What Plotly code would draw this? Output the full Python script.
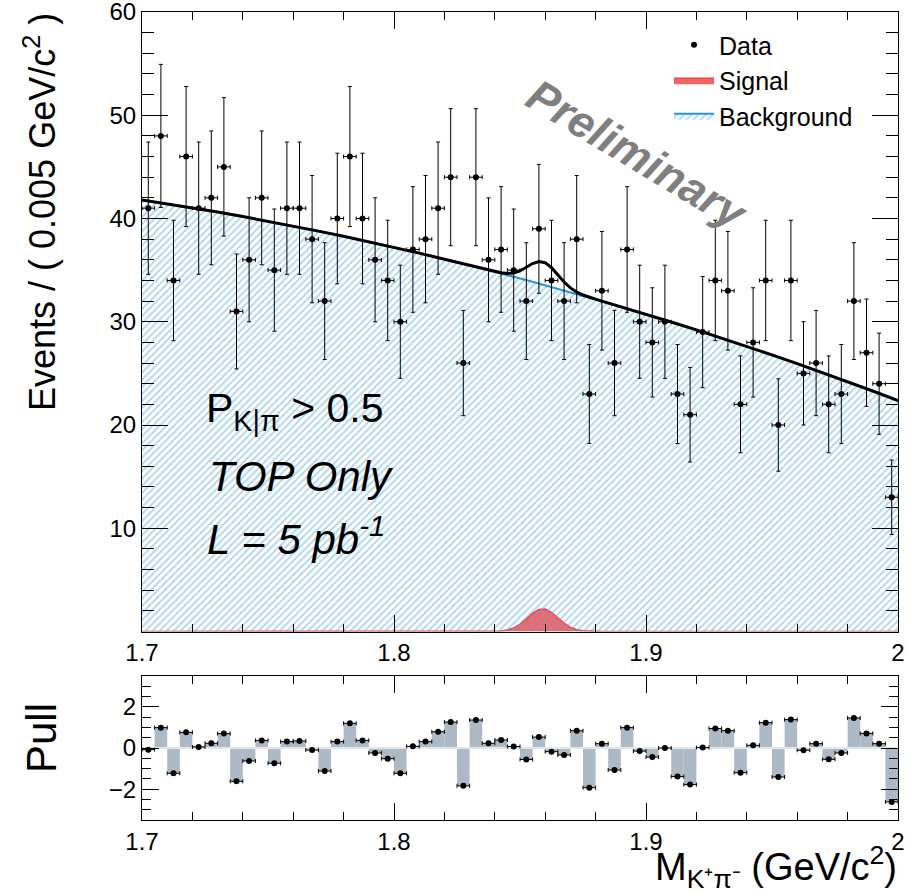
import numpy as np
import plotly.graph_objects as go

# ---------------- data ----------------
x_min, x_max, bin_w = 1.7, 2.0, 0.005

counts = [41, 48, 34, 46, 41, 42, 45, 31, 36, 42,
          35, 41, 41, 38, 32, 40, 46, 40, 36, 34,
          30, 37, 38, 41, 44, 26, 44, 36, 37, 35,
          32, 39, 34, 32, 38, 23, 33, 26, 37, 30,
          28, 30, 23, 21, 29, 34, 33, 22, 28, 34,
          20, 34, 25, 26, 22, 23, 32, 27, 24, 13]

pulls = [-0.08, 0.99, -1.23, 0.76, 0.05, 0.23, 0.70, -1.62, -0.63, 0.37,
         -0.74, 0.31, 0.34, -0.10, -1.12, 0.31, 1.20, 0.37, -0.24, -0.52,
         -1.23, 0.08, 0.31, 0.79, 1.26, -1.84, 1.36, 0.23, 0.39, 0.07,
         -0.56, 0.53, -0.18, -0.34, 0.84, -1.93, 0.21, -1.07, 0.99, -0.15,
         -0.44, 0.00, -1.39, -1.78, 0.02, 0.95, 0.84, -1.20, 0.13, 1.23,
         -1.41, 1.38, -0.11, 0.21, -0.55, -0.24, 1.46, 0.71, 0.21, -2.62]

curve_x = [1.70, 1.71, 1.72, 1.73, 1.74, 1.75, 1.76, 1.77, 1.78, 1.79, 1.80, 1.81, 1.82, 1.83,
           1.835, 1.8375, 1.84, 1.8425, 1.845, 1.8475, 1.85, 1.8525, 1.855, 1.8575, 1.86,
           1.8625, 1.865, 1.8675, 1.87, 1.8725, 1.875, 1.8775, 1.88, 1.8825, 1.885,
           1.89, 1.90, 1.91, 1.92, 1.93, 1.94, 1.95, 1.96, 1.97, 1.98, 1.99, 2.00]

bkg_y = [41.80, 41.43, 41.03, 40.62, 40.19, 39.74, 39.27, 38.78, 38.28, 37.75, 37.21, 36.65, 36.06, 35.46,
         35.16, 35.00, 34.84, 34.69, 34.53, 34.37, 34.21, 34.04, 33.88, 33.71, 33.55,
         33.38, 33.21, 33.04, 32.87, 32.70, 32.53, 32.35, 32.18, 32.00, 31.82,
         31.46, 30.73, 29.98, 29.21, 28.42, 27.61, 26.79, 25.94, 25.08, 24.20, 23.29, 22.37]

sig_y = [0, 0, 0, 0, 0, 0, 0, 0, 0, 0, 0, 0, 0, 0,
         0.001, 0.004, 0.015, 0.050, 0.145, 0.35, 0.71, 1.22, 1.76, 2.13, 2.17,
         1.86, 1.33, 0.81, 0.41, 0.175, 0.063, 0.019, 0.005, 0.001, 0.0,
         0, 0, 0, 0, 0, 0, 0, 0, 0, 0, 0, 0]

x_tick_vals = [1.7, 1.8, 1.9, 2.0]
x_tick_text = ["1.7", "1.8", "1.9", "2"]
y_tick_vals = [10, 20, 30, 40, 50, 60]
pull_tick_vals = [-2, 0, 2]

# ---------------- derived ----------------
centers = x_min + bin_w / 2 + bin_w * np.arange(len(counts))
counts_a = np.array(counts, dtype=float)
total_y = np.array(bkg_y) + np.array(sig_y)

FONT = "Liberation Sans, Arial, sans-serif"
W, H = 908, 893
L, R, T, B = 142, 10, 12, 73
PW, PH = W - L - R, H - T - B


def px(xp):
    return (xp - L) / PW


def py(yp):
    return (H - B - yp) / PH


fig = go.Figure()

# signal (red fill)
fig.add_trace(go.Scatter(
    x=curve_x, y=sig_y, mode="lines", fill="tozeroy",
    fillcolor="#f86464", line=dict(color="#f04848", width=1.5),
    name="Signal", legendrank=2, xaxis="x", yaxis="y"))

# background (hatched)
fig.add_trace(go.Scatter(
    x=curve_x, y=bkg_y, mode="lines", fill="tozeroy",
    fillcolor="rgba(0,0,0,0)",
    fillpattern=dict(shape="/", fgcolor="#5aaadc", bgcolor="rgba(0,0,0,0)",
                     size=5, solidity=0.35),
    line=dict(color="#2a95d5", width=2),
    name="Background", legendrank=3, xaxis="x", yaxis="y"))

# total fit
fig.add_trace(go.Scatter(
    x=curve_x, y=total_y, mode="lines", line=dict(color="black", width=3),
    showlegend=False, xaxis="x", yaxis="y"))

# data
fig.add_trace(go.Scatter(
    x=centers, y=counts, mode="markers",
    marker=dict(color="black", size=6),
    error_y=dict(type="data", array=np.sqrt(counts_a), thickness=1, width=2, color="black"),
    error_x=dict(type="constant", value=bin_w / 2, thickness=1, width=2, color="black"),
    name="Data", legendrank=1, xaxis="x", yaxis="y"))

# pull bars
fig.add_trace(go.Bar(
    x=centers, y=pulls, width=bin_w, marker=dict(color="#adb9c5", line=dict(width=0)),
    showlegend=False, xaxis="x2", yaxis="y2"))

# zero line in pull
fig.add_trace(go.Scatter(
    x=[x_min, x_max], y=[0, 0], mode="lines", line=dict(color="#e2e7ec", width=2),
    showlegend=False, xaxis="x2", yaxis="y2"))

# pull points
fig.add_trace(go.Scatter(
    x=centers, y=pulls, mode="markers", marker=dict(color="black", size=6),
    error_x=dict(type="constant", value=bin_w / 2, thickness=1, width=2, color="black"),
    showlegend=False, xaxis="x2", yaxis="y2"))

common_axis = dict(showline=True, linecolor="black", linewidth=1, mirror="allticks",
                   ticks="inside", tickcolor="black", tickwidth=1, showgrid=False,
                   zeroline=False, automargin=False, ticklabeloverflow="allow",
                   tickfont=dict(family=FONT, size=24, color="black"))

main_bottom = py(631.5)
pull_top = py(676)

fig.update_layout(
    width=W, height=H,
    margin=dict(l=L, r=R, t=T, b=B, autoexpand=False),
    paper_bgcolor="white", plot_bgcolor="white",
    font=dict(family=FONT, color="black"),
    showlegend=True,
    barmode="overlay",
    hovermode=False,
    xaxis=dict(domain=[0, 1], anchor="y", range=[x_min, x_max],
               tickmode="array", tickvals=x_tick_vals, ticktext=x_tick_text, ticklen=17,
               minor=dict(dtick=0.02, tick0=x_min, ticks="inside", ticklen=8, tickcolor="black"),
               **common_axis),
    yaxis=dict(domain=[main_bottom, 1], anchor="x", range=[0, 60],
               tickmode="array", tickvals=y_tick_vals, ticklen=26,
               minor=dict(dtick=2, tick0=0, ticks="inside", ticklen=12, tickcolor="black"),
               **common_axis),
    xaxis2=dict(domain=[0, 1], anchor="y2", range=[x_min, x_max], matches="x",
                tickmode="array", tickvals=x_tick_vals, ticktext=x_tick_text, ticklen=17,
                minor=dict(dtick=0.02, tick0=x_min, ticks="inside", ticklen=8, tickcolor="black"),
                **common_axis),
    yaxis2=dict(domain=[0, pull_top], anchor="x2", range=[-3.5, 3.5],
                tickmode="array", tickvals=pull_tick_vals, ticklen=17,
                minor=dict(dtick=0.5, tick0=0, ticks="inside", ticklen=9, tickcolor="black"),
                **common_axis),
    legend=dict(x=px(669), y=py(22), xanchor="left", yanchor="top",
                bgcolor="rgba(0,0,0,0)", font=dict(family=FONT, size=25, color="black"),
                itemwidth=40, tracegroupgap=0),
)

ann = []
ann.append(dict(text="Events / ( 0.005 GeV/c<sup>2</sup> )", x=px(40), y=py(212),
                xref="paper", yref="paper", textangle=-90, showarrow=False,
                xanchor="center", yanchor="middle", font=dict(size=36)))
ann.append(dict(text="Pull", x=px(41), y=py(738), xref="paper", yref="paper",
                textangle=-90, showarrow=False, xanchor="center", yanchor="middle",
                font=dict(size=42)))
ann.append(dict(text="M<sub>K⁺π⁻</sub> (GeV/c<sup>2</sup>)", x=px(899), y=py(867),
                xref="paper", yref="paper", showarrow=False, xanchor="right",
                yanchor="middle", font=dict(size=38)))
ann.append(dict(text="P<sub>K|π</sub> > 0.5", x=px(204), y=py(411), xref="paper", yref="paper",
                showarrow=False, xanchor="left", yanchor="middle", font=dict(size=41)))
ann.append(dict(text="<i>TOP Only</i>", x=px(207), y=py(477), xref="paper", yref="paper",
                showarrow=False, xanchor="left", yanchor="middle", font=dict(size=42)))
ann.append(dict(text="<i>L = 5 pb<sup>-1</sup></i>", x=px(205), y=py(536), xref="paper", yref="paper",
                showarrow=False, xanchor="left", yanchor="middle", font=dict(size=42)))
ann.append(dict(text="<b><i>Preliminary</i></b>", x=px(637), y=py(154), xref="paper", yref="paper",
                showarrow=False, xanchor="center", yanchor="middle", textangle=31,
                font=dict(size=45, color="#7f7f7f")))
fig.update_layout(annotations=ann)

fig.write_html("out.html")
